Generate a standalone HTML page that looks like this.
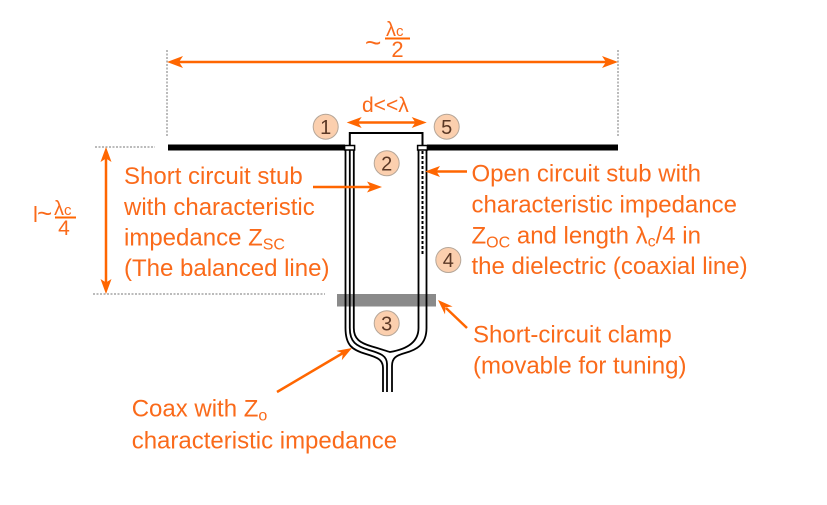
<!DOCTYPE html>
<html>
<head>
<meta charset="utf-8">
<style>
html,body{margin:0;padding:0;background:#fff;}
svg{display:block;}
text{font-family:"Liberation Sans",Arial,sans-serif;}
.t{fill:#fa6a1a;font-size:24px;}
.n{fill:#5a3826;font-size:20px;text-anchor:middle;}
</style>
</head>
<body>
<svg width="827" height="505" viewBox="0 0 827 505" xmlns="http://www.w3.org/2000/svg">
<rect width="827" height="505" fill="#fff"/>

<!-- dotted extension lines -->
<g stroke="#777" stroke-width="1" stroke-dasharray="2,1.5" fill="none">
  <line x1="167" y1="50" x2="167" y2="136"/>
  <line x1="618" y1="50" x2="618" y2="136"/>
  <line x1="95" y1="147" x2="155" y2="147"/>
  <line x1="93" y1="294" x2="325" y2="294"/>
</g>

<!-- antenna bars -->
<rect x="168" y="144.5" width="177" height="6" fill="#000"/>
<rect x="427" y="144.5" width="191" height="6" fill="#000"/>

<!-- top loop -->
<path d="M349.8,146 V133 H422.5 V146" fill="none" stroke="#000" stroke-width="2"/>

<!-- conductors -->
<g fill="none" stroke="#000" stroke-width="1.8">
  <path d="M345.5,146 V328 C345.5,345 352,350 366,354 C378,357.5 383,360 383,368 V392"/>
  <path d="M349.8,146 V328 C349.8,342 356,346 369,350 C381,353.5 387,356 387,364 V392"/>
  <path d="M353.8,146 V328 C353.8,339 360,343 372,346.5 C381,349 386,351 390,352 C402,350 418.5,345 418.5,328 V146"/>
  <path d="M426.5,146 V328 C426.5,345 416,350 405,353 C396,355.5 392,358 392,366 V392"/>
</g>
<!-- caps -->
<rect x="344.6" y="145.5" width="10" height="4.5" fill="#fff" stroke="#000" stroke-width="1.5"/>
<rect x="417.6" y="145.5" width="9.8" height="4.5" fill="#fff" stroke="#000" stroke-width="1.5"/>
<!-- dashed inner conductor -->
<line x1="422.5" y1="151" x2="422.5" y2="254" stroke="#000" stroke-width="2" stroke-dasharray="3,2"/>

<!-- clamp -->
<rect x="337" y="294" width="99" height="12.5" fill="#000" fill-opacity="0.46"/>

<!-- orange arrows -->
<g stroke="#ff6600" stroke-width="2.5" fill="none">
  <line x1="178" y1="62" x2="607" y2="62"/>
  <line x1="357" y1="122.5" x2="417" y2="122.5"/>
  <line x1="106" y1="158" x2="106" y2="283"/>
  <line x1="313" y1="187" x2="372" y2="187"/>
  <line x1="467" y1="171.5" x2="435" y2="171.5"/>
  <line x1="467" y1="328" x2="446" y2="308"/>
  <line x1="277" y1="392" x2="343" y2="353"/>
</g>
<g fill="#ff6600">
  <polygon points="167,62 183,56 179,62 183,68"/>
  <polygon points="618,62 602,56 606,62 602,68"/>
  <polygon points="346.7,122.5 361.7,117 358,122.5 361.7,128"/>
  <polygon points="426.7,122.5 411.7,117 415.4,122.5 411.7,128"/>
  <polygon points="106,147 100.5,162 106,158.5 111.5,162"/>
  <polygon points="106,294 100.5,279 106,282.5 111.5,279"/>
  <polygon points="382,187 367,181.5 370.5,187 367,192.5"/>
  <polygon points="425,171.5 440,166 436.5,171.5 440,177"/>
  <polygon points="438,300 452.6,306.5 445.5,307.3 445,314.4"/>
  <polygon points="352,348 336.3,350.9 342.9,353.3 341.8,360.3"/>
</g>

<!-- dimension labels -->
<text class="t" x="365" y="52" style="font-size:28px">~</text>
<text class="t" x="386" y="36" style="font-size:20px">λ<tspan style="font-size:15px">c</tspan></text>
<line x1="385" y1="38.5" x2="410" y2="38.5" stroke="#ff6600" stroke-width="2"/>
<text class="t" x="397.5" y="57" style="font-size:22px" text-anchor="middle">2</text>

<text class="t" x="33" y="222" style="font-size:22px">l</text>
<text class="t" x="37" y="222" style="font-size:26px">~</text>
<text class="t" x="54" y="215" style="font-size:20px">λ<tspan style="font-size:15px">c</tspan></text>
<line x1="55" y1="217.5" x2="76" y2="217.5" stroke="#ff6600" stroke-width="2"/>
<text class="t" x="64" y="235" style="font-size:21px" text-anchor="middle">4</text>

<text class="t" x="362" y="112" style="font-size:21px">d&lt;&lt;λ</text>

<!-- circles -->
<g fill="#fbcfae" stroke="#b5a698" stroke-width="1">
  <circle cx="325.7" cy="126.7" r="12.5"/>
  <circle cx="446.7" cy="126.7" r="12.5"/>
  <circle cx="386.7" cy="163.3" r="12.5"/>
  <circle cx="386.7" cy="323.3" r="12.5"/>
  <circle cx="448.3" cy="260" r="12.5"/>
</g>
<text class="n" x="325.7" y="133.8">1</text>
<text class="n" x="446.7" y="133.8">5</text>
<text class="n" x="386.7" y="170.4">2</text>
<text class="n" x="386.7" y="330.4">3</text>
<text class="n" x="448.3" y="267.1">4</text>

<!-- left text -->
<text class="t" x="124" y="184">Short circuit stub</text>
<text class="t" x="124" y="215">with characteristic</text>
<text class="t" x="124" y="245.5">impedance Z<tspan style="font-size:16px" dy="4">SC</tspan></text>
<text class="t" x="124" y="276">(The balanced line)</text>

<!-- right text -->
<text class="t" x="471.5" y="181.5">Open circuit stub with</text>
<text class="t" x="471.5" y="212.5">characteristic impedance</text>
<text class="t" x="471.5" y="243.5">Z<tspan style="font-size:16px" dy="4">OC</tspan><tspan dy="-4"> and length λ</tspan><tspan style="font-size:16px" dy="3">c</tspan><tspan dy="-3">/4 in</tspan></text>
<text class="t" x="471.5" y="274">the dielectric (coaxial line)</text>

<!-- clamp text -->
<text class="t" x="473" y="342.7">Short-circuit clamp</text>
<text class="t" x="473" y="373.3">(movable for tuning)</text>

<!-- coax text -->
<text class="t" x="131.7" y="416.7">Coax with Z<tspan style="font-size:16px" dy="4">o</tspan></text>
<text class="t" x="131.7" y="448.3">characteristic impedance</text>
</svg>
</body>
</html>
